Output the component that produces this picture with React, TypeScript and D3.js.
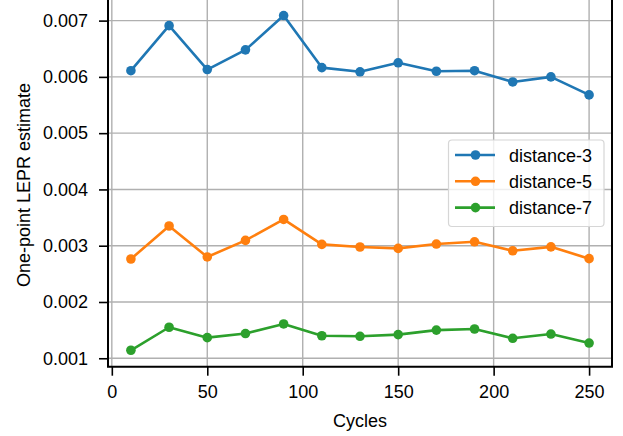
import * as d3 from "d3";
import React, { useEffect, useRef } from "react";

const cycles = [10, 30, 50, 70, 90, 110, 130, 150, 170, 190, 210, 230, 250];
const distance3 = [0.00611, 0.00691, 0.00613, 0.00648, 0.00709, 0.006165, 0.00609, 0.00625, 0.0061, 0.00611, 0.00591, 0.006, 0.00568];
const distance5 = [0.002764, 0.00335, 0.0028, 0.003094, 0.003467, 0.003023, 0.002977, 0.002952, 0.00303, 0.00307, 0.00291, 0.00298, 0.00277];
const distance7 = [0.001142, 0.001551, 0.001366, 0.001439, 0.00161, 0.0014, 0.00139, 0.00142, 0.0015, 0.00152, 0.001355, 0.00143, 0.00127];
const seriesNames = ["distance-3", "distance-5", "distance-7"];
const seriesColors = ["#1f77b4", "#ff7f0e", "#2ca02c"];
const xTicks = [0, 50, 100, 150, 200, 250];
const yTicks = [0.001, 0.002, 0.003, 0.004, 0.005, 0.006, 0.007];

const WIDTH = 623;
const HEIGHT = 436;
const FONT = "'Liberation Sans', Arial, sans-serif";
const FONT_SIZE = "18px";

export default function App() {
  const svgRef = useRef<SVGSVGElement>(null);

  useEffect(() => {
    const svg = d3.select(svgRef.current);
    svg.selectAll("*").remove();

    // plot area (top edge sits just above the picture)
    const left = 108;
    const right = 612;
    const bottom = 366.7;
    const top = -1.9;

    const xScale = d3.scaleLinear().domain([-2, 262]).range([left, right]);
    const yScale = d3.scaleLinear().domain([0.00085, 0.0074]).range([bottom, top]);

    const series = [distance3, distance5, distance7].map((vals, i) => ({
      name: seriesNames[i],
      color: seriesColors[i],
      points: vals.map((v, j) => ({ x: cycles[j], y: v })),
    }));

    // grid
    const grid = svg.append("g").attr("stroke", "#b0b0b0").attr("stroke-width", 1.4);
    grid
      .selectAll("line.gx")
      .data(xTicks)
      .join("line")
      .attr("x1", (d) => xScale(d))
      .attr("x2", (d) => xScale(d))
      .attr("y1", top)
      .attr("y2", bottom);
    grid
      .selectAll("line.gy")
      .data(yTicks)
      .join("line")
      .attr("x1", left)
      .attr("x2", right)
      .attr("y1", (d) => yScale(d))
      .attr("y2", (d) => yScale(d));

    // lines + markers
    const lineGenerator = d3
      .line<{ x: number; y: number }>()
      .x((d) => xScale(d.x))
      .y((d) => yScale(d.y));

    series.forEach((s) => {
      const g = svg.append("g");
      g.append("path")
        .attr("d", lineGenerator(s.points))
        .attr("fill", "none")
        .attr("stroke", s.color)
        .attr("stroke-width", 2.6)
        .attr("stroke-linejoin", "round");
      g.selectAll("circle")
        .data(s.points)
        .join("circle")
        .attr("cx", (d) => xScale(d.x))
        .attr("cy", (d) => yScale(d.y))
        .attr("r", 4.8)
        .attr("fill", s.color);
    });

    // axes
    const xAxis = d3.axisBottom(xScale).tickValues(xTicks).tickSize(9).tickPadding(10);
    const yAxis = d3
      .axisLeft(yScale)
      .tickValues(yTicks)
      .tickSize(9)
      .tickPadding(11)
      .tickFormat(d3.format(".3f"));

    const xAxisG = svg.append("g").attr("transform", `translate(0, ${bottom})`).call(xAxis);
    const yAxisG = svg.append("g").attr("transform", `translate(${left}, 0)`).call(yAxis);
    [xAxisG, yAxisG].forEach((a) => {
      a.select(".domain").remove();
      a.selectAll("line").attr("stroke", "#000").attr("stroke-width", 1.6);
      a.selectAll("text")
        .attr("fill", "#000")
        .style("font-family", FONT)
        .style("font-size", FONT_SIZE);
    });

    // spines
    svg
      .append("path")
      .attr("d", `M${left},${top}V${bottom}H${right}V${top}`)
      .attr("fill", "none")
      .attr("stroke", "#000")
      .attr("stroke-width", 2);

    // axis labels
    svg
      .append("text")
      .attr("x", (left + right) / 2)
      .attr("y", 426.5)
      .attr("text-anchor", "middle")
      .style("font-family", FONT)
      .style("font-size", FONT_SIZE)
      .text("Cycles");

    svg
      .append("text")
      .attr("transform", `translate(29.5, 287) rotate(-90)`)
      .attr("text-anchor", "start")
      .style("font-family", FONT)
      .style("font-size", FONT_SIZE)
      .text("One-point LEPR estimate");

    // legend
    const legend = svg.append("g");
    legend
      .append("rect")
      .attr("x", 448.5)
      .attr("y", 140)
      .attr("width", 155.5)
      .attr("height", 86.5)
      .attr("rx", 3.5)
      .attr("fill", "rgba(255,255,255,0.8)")
      .attr("stroke", "#d6d6d6")
      .attr("stroke-width", 1.2);
    series.forEach((s, i) => {
      const yy = 155 + i * 26.3;
      legend
        .append("line")
        .attr("x1", 455)
        .attr("x2", 495)
        .attr("y1", yy)
        .attr("y2", yy)
        .attr("stroke", s.color)
        .attr("stroke-width", 2.6);
      legend.append("circle").attr("cx", 475.5).attr("cy", yy).attr("r", 4.8).attr("fill", s.color);
      legend
        .append("text")
        .attr("x", 509)
        .attr("y", yy + 6.5)
        .style("font-family", FONT)
        .style("font-size", FONT_SIZE)
        .text(s.name);
    });
  }, []);

  return (
    <svg
      ref={svgRef}
      width={WIDTH}
      height={HEIGHT}
      style={{ position: "absolute", left: 0, top: 0, background: "#fff" }}
    ></svg>
  );
}
